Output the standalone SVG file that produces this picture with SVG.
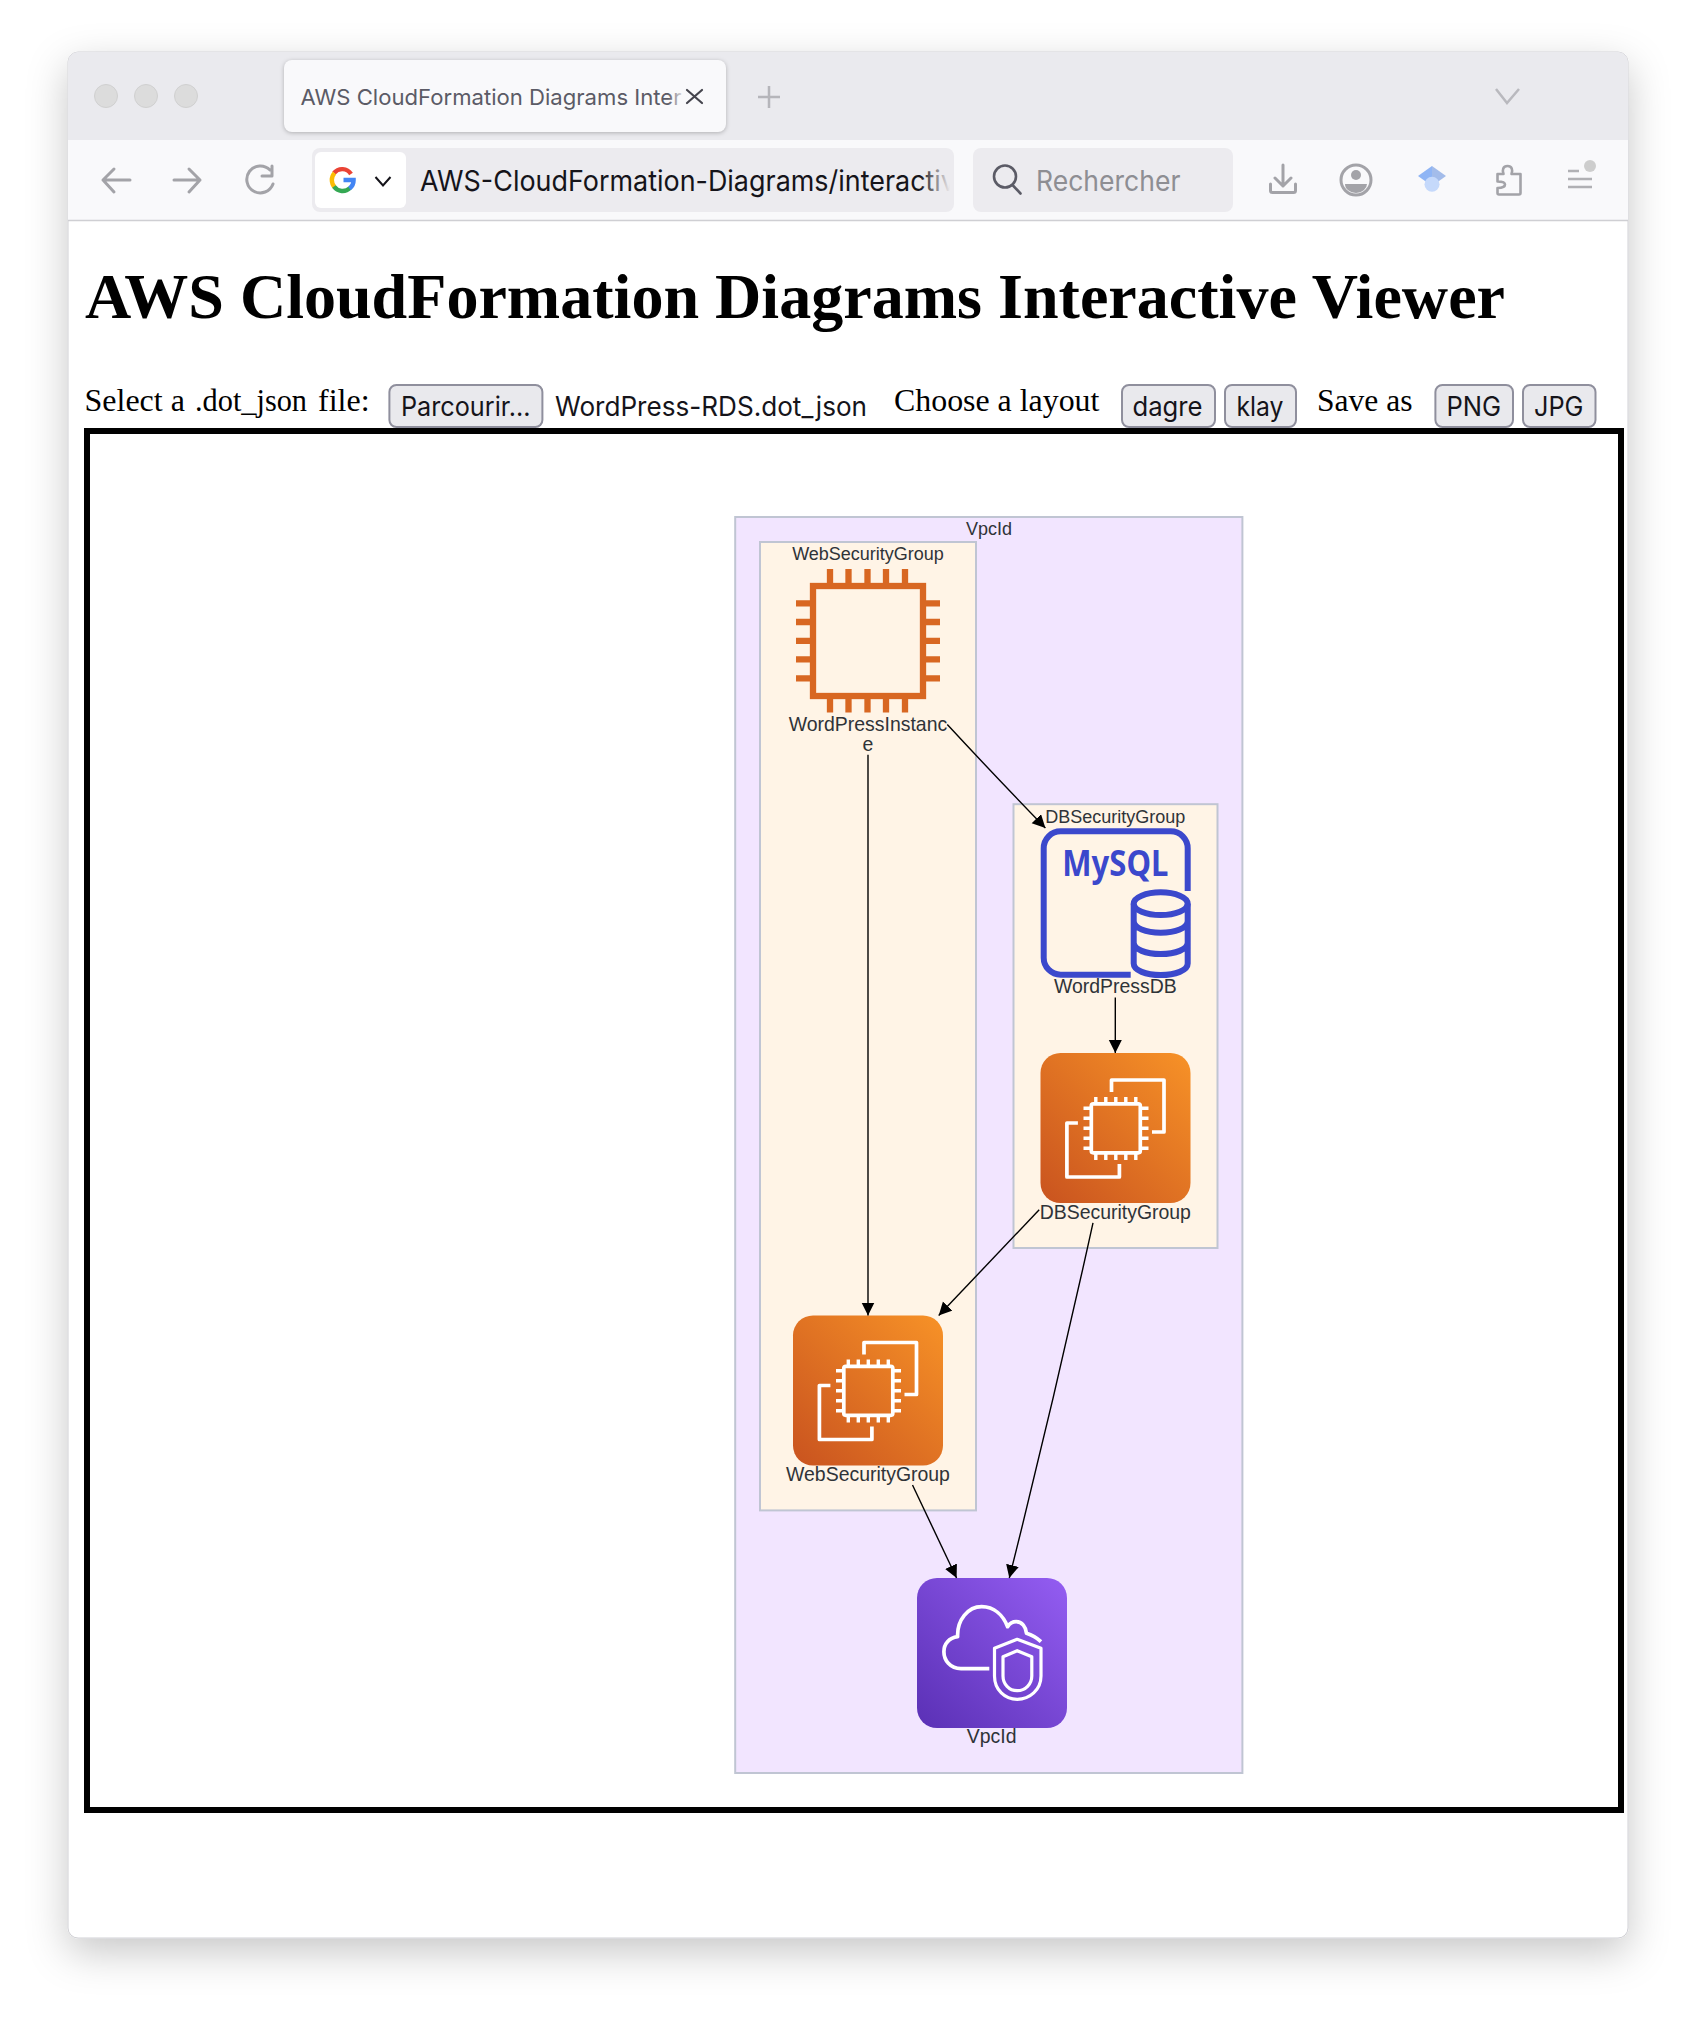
<svg xmlns="http://www.w3.org/2000/svg" xmlns:xlink="http://www.w3.org/1999/xlink" width="1696" height="2022" viewBox="0 0 1696 2022">
<style>
.ui{font-family:"Inter","Liberation Sans",sans-serif}
.serif{font-family:"Liberation Serif","Times New Roman",serif;font-size:32px;fill:#000}
.btn{fill:#e9e9ed;stroke:#8f8f9d;stroke-width:2}
.btxt{font-family:"Inter","Liberation Sans",sans-serif;font-size:26.7px;fill:#15141a}
.ico{fill:none;stroke:#a3a3a8;stroke-width:3;stroke-linecap:round;stroke-linejoin:round}
.grp{stroke:#c0c5d3;stroke-width:2}
.gl{font-family:"Liberation Sans",Arial,sans-serif;font-size:18px;fill:#2f3338;text-anchor:middle}
.nl{font-family:"Liberation Sans",Arial,sans-serif;font-size:19.45px;fill:#2f3338;text-anchor:middle}
.edge{fill:none;stroke:#000;stroke-width:1.4;marker-end:url(#arrow)}
.chip{fill:none;stroke:#d86722;stroke-width:6.3}
.w{fill:none;stroke:#fff;stroke-width:3.7;stroke-linejoin:round}
.db{fill:none;stroke:#3b48cc;stroke-width:6}
</style>
<defs>
<filter id="shadow" x="-10%" y="-10%" width="120%" height="120%"><feDropShadow dx="0" dy="14" stdDeviation="20" flood-color="#000" flood-opacity="0.22"/></filter>
<marker id="arrow" markerUnits="userSpaceOnUse" markerWidth="14" markerHeight="14" refX="13" refY="6.5" orient="auto"><path d="M0,0 L13,6.5 L0,13 Z" fill="#000"/></marker>
<linearGradient id="orange" x1="0" y1="1" x2="1" y2="0"><stop offset="0" stop-color="#c9531f"/><stop offset="1" stop-color="#f79227"/></linearGradient>
<linearGradient id="purple" x1="0" y1="1" x2="1" y2="0"><stop offset="0" stop-color="#5a30b5"/><stop offset="1" stop-color="#945df2"/></linearGradient>
<linearGradient id="fadeTab" x1="0" x2="1" y1="0" y2="0"><stop offset="0" stop-color="#f9f9fb" stop-opacity="0"/><stop offset="1" stop-color="#f9f9fb"/></linearGradient>
<linearGradient id="fadeUrl" x1="0" x2="1" y1="0" y2="0"><stop offset="0" stop-color="#ecebef" stop-opacity="0"/><stop offset="1" stop-color="#ecebef"/></linearGradient>
<clipPath id="urlclip"><rect x="410" y="150" width="540" height="60"/></clipPath>
<clipPath id="tabclip"><rect x="296" y="70" width="388" height="50"/></clipPath>
<g id="ec2">
<rect width="150" height="150" rx="20" fill="url(#orange)"/>
<path class="w" d="M71,39V27H123.5V79H111.5M37.4,70H26.4V124H78.9V111"/>
<rect class="w" x="50.8" y="50.8" width="49" height="49" rx="2"/>
<path d="M55.3,44V50M65.3,44V50M75.3,44V50M85.3,44V50M95.3,44V50M55.3,101V107M65.3,101V107M75.3,101V107M85.3,101V107M95.3,101V107M43,55.3H50M43,65.3H50M43,75.3H50M43,85.3H50M43,95.3H50M101,55.3H108M101,65.3H108M101,75.3H108M101,85.3H108M101,95.3H108" fill="none" stroke="#fff" stroke-width="3.4"/>
</g>
</defs>

<rect width="1696" height="2022" fill="#fff"/>

<g id="browser-window">
<rect x="68" y="52" width="1560" height="1886" rx="10" fill="#fff" stroke="#d0d0d4" stroke-width="1" filter="url(#shadow)"/>
<path d="M68,140V62a10,10 0 0 1 10,-10H1618a10,10 0 0 1 10,10V140Z" fill="#eaeaee"/>
<rect x="68" y="140" width="1560" height="80" fill="#f9f9fb"/>
<path d="M68,220.5H1628" stroke="#cfcfd3" stroke-width="1.5"/>
<circle cx="106" cy="96" r="11.5" fill="#dcdcdc" stroke="#d0d0d0"/>
<circle cx="146" cy="96" r="11.5" fill="#dcdcdc" stroke="#d0d0d0"/>
<circle cx="186" cy="96" r="11.5" fill="#dcdcdc" stroke="#d0d0d0"/>
</g>

<g id="tab">
<rect x="284" y="60" width="442" height="72" rx="8" fill="#f9f9fb" style="filter:drop-shadow(0 1px 2px rgba(0,0,0,.25))"/>
<text class="ui" x="300.5" y="105" font-size="22" fill="#5b5b66" textLength="381" lengthAdjust="spacingAndGlyphs" clip-path="url(#tabclip)">AWS CloudFormation Diagrams Inter</text>
<rect x="668" y="70" width="17" height="50" fill="url(#fadeTab)"/>
<path d="M687,90L702,103M702,90L687,103" fill="none" stroke="#45454d" stroke-width="2.2" stroke-linecap="round"/>
<path d="M769,86V108M758,97H780" fill="none" stroke="#b5b5ba" stroke-width="2.5"/>
<path d="M1496,89L1507,103L1519,89" fill="none" stroke="#b9b9be" stroke-width="2.5"/>
</g>

<g id="toolbar">
<path class="ico" d="M130,180H103M114,169L103,180L114,192"/>
<path class="ico" d="M174,180H200M189,169L200,180L189,192"/>
<path class="ico" d="M270,170A13.5,13.5 0 1 0 273,184M272,166V176H262"/>
<rect x="312" y="148" width="642" height="64" rx="8" fill="#ecebef"/>
<rect x="315" y="152" width="91" height="56" rx="6" fill="#fff"/>
<g fill="none" stroke-width="4.4">
<path d="M351,174A10.5,10.5 0 0 0 334,173" stroke="#ea4335"/>
<path d="M334.5,173A10.5,10.5 0 0 0 334.5,187" stroke="#fbbc05"/>
<path d="M334,186.5A10.5,10.5 0 0 0 350,188" stroke="#34a853"/>
<path d="M349.5,188.5A10.5,10.5 0 0 0 353.6,180H343.5" stroke="#4285f4"/>
</g>
<path d="M375.5,177L383,185.5L390.5,177" fill="none" stroke="#15141a" stroke-width="2"/>
<text class="ui" x="420" y="190.5" font-size="28.5" fill="#15141a" textLength="536" lengthAdjust="spacingAndGlyphs" clip-path="url(#urlclip)">AWS-CloudFormation-Diagrams/interactiv</text>
<rect x="920" y="152" width="30" height="56" fill="url(#fadeUrl)"/>
<rect x="973" y="148" width="260" height="64" rx="8" fill="#ecebef"/>
<circle cx="1005" cy="176.5" r="11" fill="none" stroke="#5b5b66" stroke-width="2.6"/>
<path d="M1012.5,185L1020.5,193.5" stroke="#5b5b66" stroke-width="2.6" stroke-linecap="round"/>
<text class="ui" x="1036" y="190.5" font-size="28.5" fill="#8e8e93" textLength="144.5" lengthAdjust="spacingAndGlyphs">Rechercher</text>
<path class="ico" d="M1283,165V186M1275,178L1283,186L1291,178M1270.5,184V190.5a2,2 0 0 0 2,2H1293.5a2,2 0 0 0 2,-2V184"/>
<circle cx="1356" cy="180" r="15" class="ico"/>
<circle cx="1356" cy="175" r="5" fill="#a3a3a8"/>
<path d="M1345,184H1367A11,9 0 0 1 1345,184Z" fill="#a3a3a8"/>
<path d="M1432,166L1418,176L1432,186Z" fill="#8fb5f5"/>
<path d="M1432,166L1446,176L1432,186Z" fill="#a3bcea"/>
<circle cx="1432" cy="184.3" r="7.5" fill="#c5d9fb"/>
<path class="ico" d="M1497.5,174H1503.5C1502,170 1503,166 1507.5,166C1512,166 1513,170 1511.5,174H1520.5V193a1.5,1.5 0 0 1 -1.5,1.5H1499a1.5,1.5 0 0 1 -1.5,-1.5V188C1503,188 1505,186 1505,184.5C1505,183 1503,181.5 1497.5,181.5Z" style="stroke-width:2.6"/>
<path d="M1568,171H1579M1568,179H1592M1568,187H1592" fill="none" stroke="#b0b0b4" stroke-width="2.6"/>
<circle cx="1590" cy="166" r="6" fill="#cdcdcd"/>
</g>

<g id="page-header">
<text x="85" y="318" font-family="'Liberation Serif','Times New Roman',serif" font-size="64" font-weight="bold" fill="#000" textLength="1420" lengthAdjust="spacingAndGlyphs">AWS CloudFormation Diagrams Interactive Viewer</text>
<text class="serif" y="411"><tspan x="84.5">Select a</tspan><tspan x="195" textLength="112" lengthAdjust="spacingAndGlyphs">.dot_json</tspan><tspan x="318">file:</tspan></text>
<rect class="btn" x="389.4" y="385" width="153" height="42" rx="7"/>
<text class="btxt" x="401" y="415.7" textLength="129.5" lengthAdjust="spacingAndGlyphs">Parcourir...</text>
<text class="btxt" x="555" y="415.7" textLength="312" lengthAdjust="spacingAndGlyphs">WordPress-RDS.dot_json</text>
<text class="serif" x="894" y="411" textLength="205.4" lengthAdjust="spacingAndGlyphs">Choose a layout</text>
<rect class="btn" x="1122" y="385" width="93" height="42" rx="7"/>
<text class="btxt" x="1132.5" y="415.7" textLength="70" lengthAdjust="spacingAndGlyphs">dagre</text>
<rect class="btn" x="1225" y="385" width="71" height="42" rx="7"/>
<text class="btxt" x="1236.5" y="415.7" textLength="47" lengthAdjust="spacingAndGlyphs">klay</text>
<text class="serif" x="1317" y="411" textLength="95.4" lengthAdjust="spacingAndGlyphs">Save as</text>
<rect class="btn" x="1435.4" y="385" width="77.6" height="42" rx="7"/>
<text class="btxt" x="1446.5" y="415.7" textLength="54.6" lengthAdjust="spacingAndGlyphs">PNG</text>
<rect class="btn" x="1523" y="385" width="72.5" height="42" rx="7"/>
<text class="btxt" x="1534" y="415.7" textLength="49.5" lengthAdjust="spacingAndGlyphs">JPG</text>
</g>

<rect id="canvas-frame" x="87" y="431" width="1534" height="1379" fill="#fff" stroke="#000" stroke-width="6"/>

<g id="group-VpcId">
<rect class="grp" x="735.2" y="517" width="507.2" height="1256" fill="#f2e5ff"/>
<text class="gl" x="989" y="535">VpcId</text>
</g>
<g id="group-WebSecurityGroup">
<rect class="grp" x="760" y="542" width="216" height="968.4" fill="#fff4e6"/>
<text class="gl" x="868" y="560">WebSecurityGroup</text>
</g>
<g id="group-DBSecurityGroup">
<rect class="grp" x="1013.5" y="804.2" width="204" height="443.8" fill="#fff4e6"/>
<text class="gl" x="1115.3" y="822.7">DBSecurityGroup</text>
</g>

<g id="node-WordPressInstance">
<rect class="chip" x="813" y="586" width="110" height="110"/>
<path class="chip" d="M830,569V583M848.5,569V583M867.5,569V583M886,569V583M905,569V583M830,699V712.5M848.5,699V712.5M867.5,699V712.5M886,699V712.5M905,699V712.5M796,603.3H810M796,622H810M796,640.8H810M796,659.4H810M796,678.4H810M926,603.3H940M926,622H940M926,640.8H940M926,659.4H940M926,678.4H940"/>
<text class="nl" x="868" y="731">WordPressInstanc</text>
<text class="nl" x="868" y="750.7">e</text>
</g>

<g id="node-WordPressDB">
<path class="db" d="M1187.7,891V848.5A17,17 0 0 0 1170.7,831.3H1060.7A17,17 0 0 0 1043.7,848.5V957.7A17,17 0 0 0 1060.7,974.7H1130.7"/>
<text x="1062.3" y="876" font-family="'Noto Sans','Open Sans',sans-serif" font-weight="bold" font-size="36.5" fill="#3b48cc" textLength="106" lengthAdjust="spacingAndGlyphs">MySQL</text>
<ellipse class="db" cx="1160.7" cy="903.7" rx="27" ry="11.4"/>
<path class="db" d="M1133.7,903.7V963.5C1133.7,970.5 1146,975 1160.7,975C1175.4,975 1187.7,970.5 1187.7,963.5V903.7M1133.7,921C1133.7,928 1146,932.7 1160.7,932.7C1175.4,932.7 1187.7,928 1187.7,921M1133.7,942.5C1133.7,949.5 1146,954 1160.7,954C1175.4,954 1187.7,949.5 1187.7,942.5"/>
<text class="nl" x="1115.3" y="992.6">WordPressDB</text>
</g>

<g id="node-DBSecurityGroup">
<use href="#ec2" x="1040.5" y="1053"/>
<text class="nl" x="1115.3" y="1218.7">DBSecurityGroup</text>
</g>

<g id="node-WebSecurityGroup">
<use href="#ec2" x="793" y="1315.5"/>
<text class="nl" x="868" y="1480.7">WebSecurityGroup</text>
</g>

<g id="node-VpcId">
<rect x="917" y="1578" width="150" height="150" rx="20" fill="url(#purple)"/>
<path class="w" d="M72.3,90.7H44C33,90.7 26.9,82 26.9,73.7C26.9,66 32,60 40.6,58.7C40,42 51,28.7 64.7,28.7C77,28.7 86,37 90.6,48.7C93,45 96,43.7 99.2,43.7C105,43.7 109,49 109.5,55.3C115,57 120,60 124,63.7" transform="translate(917,1578)"/>
<path class="w" style="stroke-width:3.2" d="M100.2,61.3L77.5,70.3V98C77.5,112 88,121.3 100.2,121.3C112.5,121.3 124,112 124,98V70.3ZM100.2,72.7L86,78.7V98C86,106 92,112.7 100.2,112.7C108.5,112.7 114.8,106 114.8,98V78.7Z" transform="translate(917,1578)"/>
<text class="nl" x="991.7" y="1743">VpcId</text>
</g>

<g id="connectors">
<path class="edge" d="M947.3,724.5Q995,776 1045.4,828"/>
<path class="edge" d="M868,754.8V1315.5"/>
<path class="edge" d="M1115.3,997.6V1053"/>
<path class="edge" d="M1039.2,1209.8L938.7,1315.5"/>
<path class="edge" d="M1093,1222.8Q1054,1400 1009.3,1578"/>
<path class="edge" d="M912.5,1485L956.6,1578"/>
</g>
</svg>
